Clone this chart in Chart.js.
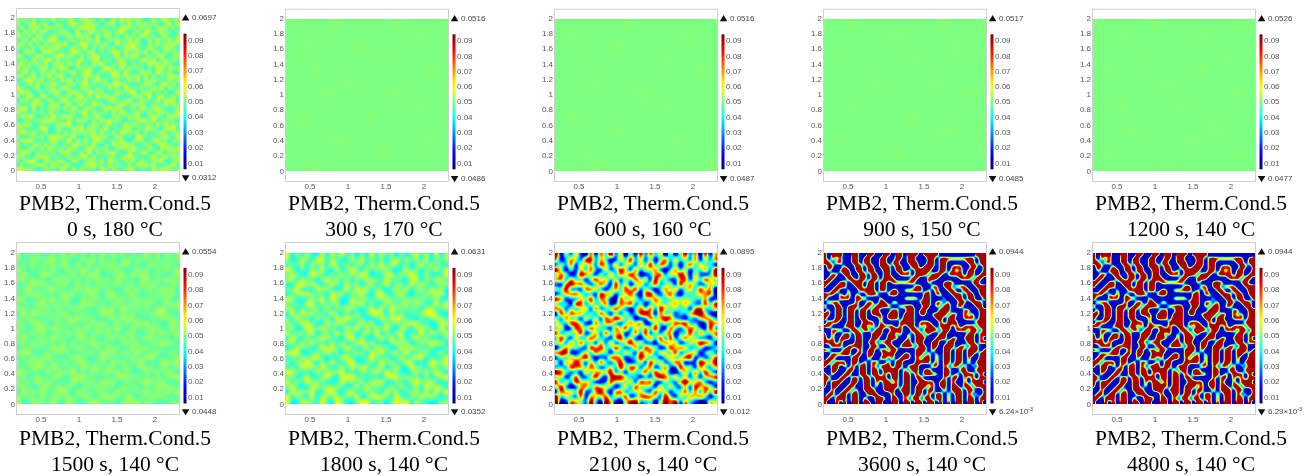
<!DOCTYPE html>
<html>
<head>
<meta charset="utf-8">
<title>PMB2 phase field panels</title>
<script src="https://cdn.jsdelivr.net/npm/chart.js@4"></script>
<style>
    html, body { margin: 0; padding: 0; background: #fff; }
    body { position: relative; width: 1315px; height: 476px; overflow: hidden; }
    canvas { position: absolute; filter: blur(0.3px); }
    .caption {
        position: absolute; width: 260px; text-align: center; color: #000;
        font: 21.5px/26px "Liberation Serif", serif; white-space: nowrap;
    }
</style>
</head>
<body>
<script>
const xTicks = [0.5, 1, 1.5, 2];
const yTicks = [0, 0.2, 0.4, 0.6, 0.8, 1, 1.2, 1.4, 1.6, 1.8, 2];
const barTicks = [0.01, 0.02, 0.03, 0.04, 0.05, 0.06, 0.07, 0.08, 0.09];
const captionTitle = 'PMB2, Therm.Cond.5';
const captionTimes = ['0 s, 180 °C', '300 s, 170 °C', '600 s, 160 °C', '900 s, 150 °C', '1200 s, 140 °C',
    '1500 s, 140 °C', '1800 s, 140 °C', '2100 s, 140 °C', '3600 s, 140 °C', '4800 s, 140 °C'];
const maxLabels = ['0.0697', '0.0516', '0.0516', '0.0517', '0.0526', '0.0554', '0.0631', '0.0895', '0.0944', '0.0944'];
const minLabels = ['0.0312', '0.0486', '0.0487', '0.0485', '0.0477', '0.0448', '0.0352', '0.012', '6.24', '6.29'];

// digit d in a grid means base + d * step
const gridBase = [0.042, 0.047, 0.047, 0.047, 0.047, 0.046, 0.039, 0.012, 0.012, 0.012];
const gridStep = [0.002, 0.001, 0.001, 0.001, 0.001, 0.0009, 0.0024, 0.0088, 0.0088, 0.0088];

const grid0 = [
"44627153390628417754061382957364018269437","81359246007318852694413760529183746205918",
"27045918663401729958136042785519360847262","60938275114862090377254618930462871593304",
"95261740383157296640819524073618925047116","13708462995024617382901657348290164735829",
"58290617346790158824637109256843071926485","72416093588216734905182460379951286037741",
"30865129741605982376041597282364915708263","94132760258937406158723049165870342691058",
"16509348827154069237816405932617849055372","49273618056628391407592163870425196738410",
"83640297155970146382039741826653040982767","25917064382436815790264587193018472953601",
"67048135926801523964710296384572906143885","12795480361749062815937046128390657421936",
"50382916474136708925146389750214863079252","96214703580893125740631825097346128590643",
"38760251469017952386470128536904782415109","71493086125346089271958463201775390682364",
"05826913740982473615302794168026541937780","62139570486057139248660315972848206319475",
"48907132665281940573129768403519627850136","93516280743014628907354182960473081765229",
"27684015392776501834921056347681249530968","10352749864329087516284937105268739146420",
"84961073225698134027615840392751460928373","56230498117403769285349016278134586207991",
"39748216005182645739082361974560712483156","71054362898625901347756128403097314268509",
"26893140575349082716961354820476218935064","90415728363071864529013285796412650387412",
"53267081942618730594428106375923184076859","18940635271795126380654792018346902751463",
"75302968414036258917132460879521068349276","42689107535812940376281953064719325680147",
"06135874296274013689540826317095748123590","89472016350961827435096273158604219378625"
];
const grid300 = [
"33334333343333","33343333333433","34333343333333","33333333433333","33433333333343",
"33333433333333","33343333343333","33333333333433","34333334333333","33333333333333",
"33334333333343","33333333433333","33433333333333"
];
const grid600 = [
"33333343333333","34333333333433","33333433333333","33433333343333","33333333333343",
"33343333333333","33333334333333","33333333343333","34333333333333","33333433333333",
"33333333334333","33433333333333","33343333433334"
];
const grid900 = [
"33433333334333","33333343333333","33333333333433","34333334333333","33333333333333",
"33334333343333","33333333333343","33433333333333","33333334333333","33333333334333",
"34333333333333","33333343333333","33333333333333"
];
const grid1200 = [
"33333433333343","33433333343333","33333333333333","33334333333433","34333333343333",
"33333343333333","33333333333343","33433334333333","33333333333333","33343333334333",
"33333333433333","34333333333343","33333343333333"
];
// same blobs grow from 1500 s to 2100 s, only the amplitude changes
const gridBlobs = [
"815262071739260518273605148270816","703751982640173926150482735180627",
"162807361952806417392861504927350","940516283071395082647103726053819",
"375029740618274950136827495162038","681734059372615384709351268073954",
"207968413850926037158246093741265","549120876204738591620473815629470",
"136785230967145820793158204355681","870316492751083462547534555443702",
"425098163480276915036445646521938","761524709136852047381954535078246",
"093867251940416238960725143689510","518240736085973501284697320415763",
"642975108367214758016352879240186","370186493520849163749208415763092",
"815639027194560382905176042918547","294071586330792610483909158361205",
"561829340718036947120583702649871","037452196843951280956019486235014",
"789013628450427509381762913570462","152746930218760348625047258904137",
"608395072941583126094713860129758","241967385036294871570382194607326",
"975130826759140635829451037282941","360482159307986240316974825160578",
"817295640128453709682053179648203","492016738564027193540827316095761",
"085749126930781546219360548271839","926318075482639027875194062758403",
"901764293096105892340586917320165"
];
const grid3600 = [
"#.###..##..##..##.##.###.####.........###","#.#.#..##.##..##..##.##...##.#########.##",
"##.##..##.##..##.##..###..##.##.....##.##",".##..#..##.##.###.##..##.###.##.###..##.#",
".#..###.##.##..##.##.#.####..##.#.#.##..#","..##.##..##.##.##..###.###.###.####.##.##",
".##...##.##.##.###....##..###.....###.##.","##..##.###.##.##.######...#...###....##..",
"#..###..##.##.##.......##..##.##.###..###","..##..#..####.##.##.#####.#.#..##..##..##",
"###.#.#.#..###..###......##.##..###.##.##","#...###.###...#.....####.##...#..##.##..#",
".###....#..##.##.##.....###.##.#..##.###.","#..##.###.##.####..####..##.#.##.##...##.",
".#.##.##.##.##...##..##.##...###...##..##","##.##.##.##.###.###.###.##.####.##.#.#.##",
"#..##.##.##...#.###.###.....##.##..###.##",".###..##..###.#....####.###..#.###....###",
"##...###.##.#.####.#.##.#.##.###.#.###.##",
"..###..##.##.##..###..##.####.##.###.##.#","#.#..##.##..###.##.#.#.##.#..##.....##.##",
"#.#.###.##..##..###..#.###..###.##.###.#.","###.#...##.##.###...##.##..##..##...##.##",
"..###.####..##..##.####.##.##.###.##.##..","##...##..#.##.##.##....###.#..##.##.###.#",
"..#####.##.##..###..##.##.#.#.##.##.##.##",".##....##..#..##.#.###.#.##.#.##.##.#..##",
"##.###.##.#.##..#.##...####.#.##.##.#.###","#.##.#.#.##.#.###.##.###...##.#.##.#.#.##",
"..##..##.##.##.####.#.##.##...##..##..###","#.#..##..##.##.#.##.##.#.####.##.#.###.#.",
"##..##.##.##.###.##.##.##.....#.##.#.#.##","#.###..##.##.#.##.#.##..####.##.#..#.###.",
"#.##..##..##.#.####.##.###.#.##.##.##.###","..#..##.#.###..###.###.##.##..#.###.##..#",
".##.##.##..###...#..##.##.#.##.#.##.#.#.#","##.###.##.#..###.##.#.##.##.##.#.##.##.##",
"#..#.#.##.##.##..##.##.##.##.#.#.##.##.#."
];
const grid4800 = [
"#.###..##..##..##.##.###.####............","#.#.#..##.##..##..##.##...##.#########.##",
"##.##..##.##..##.##..###..##.##.....##.##",".##..#..##.##.###.##..##.###.##.###..##.#",
".#..###.##.##..##.##.#.####..##.#.#.##..#","..##.##..##.##.##..###.###.###.####.##.##",
".##...##.##.##.###....##..###.....###.##.","##..##.###.##.##.######...#...###....##..",
"#..###..##.##.##.......##..##.##.###..###","..##..#..####.##.##.#####.#.#..##..##..##",
"###.#.#.#..###..###......##.##..###.##.##","#...###.###...#.....####.##...#..##.##..#",
".###....#..##.##.##.....###.##.#..##.###.","#..##.###.##.####..####..##.#.##.##...##.",
".#.##.##.##.##...##..##.##...###...##..##","##.##.##.##.###.###.###.##.####.##.#.#.##",
"#..##.##.##...#.###.###.....##.##..###.##",".###..##..###.#....####.###..#.###....###",
"##...###.##.#.####.#.##.#.##.###.#.###.##",
"..###..##.##.##..###..##.####.##.###.##.#","#.#..##.##..###.##.#.#.##.#..##.....##.##",
"#.#.###.##..##..###..#.###..###.##.###.#.","###.#...##.##.###...##.##..##..##...##.##",
"..###.####..##..##.####.##.##.###.##.##..","##...##..#.##.##.##....###.#..##.##.###.#",
"..#####.##.##..###..##.##.#.#.##.##.##.##",".##....##..#..##.#.###.#.##.#.##.##.#..##",
"##.###.##.#.##..#.##...####.#.##.##.#.###","#.##.#.#.##.#.###.##.###...##.#.##.#.#.##",
"..##..##.##.##.####.#.##.##...##..##..###","#.#..##..##.##.#.##.##.#.####.##.#.###.#.",
"##..##.##.##.###.##.##.##.....#.##.#.#.##","#.###..##.##.#.##.#.##..####.##.#..#.###.",
"#.##..##..##.#.####.##.###.#.##.##.##.###","..#..##.#.###..###.###.##.##..#.###.##..#",
".##.##.##..###...#..##.##.#.##.#.##.#.#.#","##.###.##.#..###.##.#.##.##.##.#.##.##.##",
"#..#.#.##.##.##..##.##.##.##.#.#.##.##.#."
];
const panelGrids = [grid0, grid300, grid600, grid900, grid1200, gridBlobs, gridBlobs, gridBlobs, grid3600, grid4800];
const panelSmooth = [1, 3, 3, 3, 3, 2.2, 2.2, 2.2, 2, 2];
const panelGain = [0.75, 0.7, 0.7, 0.7, 0.7, 1.3, 1.2, 1.6, 3.4, 3.4];
const panelPivot = [0.05, 0.05, 0.05, 0.05, 0.05, 0.05, 0.05, 0.05, 0.058, 0.058];

const frameLefts = [16, 285, 554, 823, 1092];
const rowTops = [0, 234];
const plotHeights = [174, 173];
const yRanges = [[-0.14, 2.13], [-0.141, 2.145]];
const barRanges = [[-0.0021, 0.1111], [-0.0013, 0.1112]];
const captionTops = [190, 425];
const xRange = [0.171, 2.329];
const barLow = 0.0062, barHigh = 0.0944;

// COMSOL rainbow table, same as jet
function rainbowRgb(v) {
    const t = Math.min(1, Math.max(0, (v - barLow) / (barHigh - barLow)));
    const ch = c => Math.round(255 * Math.min(1, Math.max(0, 1.5 - Math.abs(4 * t - c))));
    return [ch(3), ch(2), ch(1)];
}
const rainbow = v => `rgb(${rainbowRgb(v).join(',')})`;

// cells are painted as grey levels first, the colour table goes on after smoothing
function greyFor(v) {
    const g = Math.round(255 * (v - barLow) / (barHigh - barLow));
    return `rgb(${g},${g},${g})`;
}

function cellPoints(grid, base, step) {
    const cols = grid[0].length, rows = grid.length;
    const pts = [];
    grid.forEach((line, r) => {
        const row = line.padEnd(cols, line[line.length - 1]).slice(0, cols);
        for (let c = 0; c < cols; c++) {
            const ch = row[c];
            const d = ch === '#' ? 9 : ch === '.' ? 0 : Number(ch);
            pts.push({
                x: xRange[0] + (c + 0.5) * (xRange[1] - xRange[0]) / cols,
                y: 2 - (r + 0.5) * 2 / rows,
                v: base + d * step
            });
        }
    });
    return pts;
}

// rect point style has corners at the radius, so side = radius * sqrt2
const sideToRadius = side => side / Math.SQRT2;

captionTimes.forEach((time, i) => {
    const col = i % 5, row = i < 5 ? 0 : 1;
    const grid = panelGrids[i];
    const sideX = 164 / grid[0].length;
    const sideY = plotHeights[row] * 2 / (yRanges[row][1] - yRanges[row][0]) / grid.length;
    const side = Math.max(sideX, sideY);
    const pts = cellPoints(grid, gridBase[i], gridStep[i]);
    const fieldLow = gridBase[i], fieldHigh = gridBase[i] + 9 * gridStep[i];
    const striped = i >= 8;

    const datasets = [{
        data: pts,
        pointStyle: 'rect',
        pointRadius: sideToRadius(side + 0.6),
        pointBorderWidth: 0,
        pointBackgroundColor: pts.map(p => greyFor(p.v))
    }];

    const decor = {
        id: 'decor',
        afterDatasetsDraw(chart) {
            const { ctx, chartArea: a, scales } = chart;
            const top = Math.round(scales.y.getPixelForValue(2)), bottom = Math.round(scales.y.getPixelForValue(0));
            const w = Math.round(a.right - a.left), h = bottom - top;
            ctx.save();
            ctx.beginPath();
            ctx.rect(a.left, top, w, h);
            ctx.clip();
            ctx.filter = `blur(${panelSmooth[i]}px)`;
            // only the plot region goes through the blur, not the tick labels beside it
            ctx.drawImage(chart.canvas, a.left, top, w, h, a.left, top, w, h);
            ctx.restore();

            const img = ctx.getImageData(a.left, top, w, h);
            const px = img.data;
            const pivot = panelPivot[i];
            for (let k = 0; k < px.length; k += 4) {
                let v = barLow + (px[k] / 255) * (barHigh - barLow);
                v = 0.05 + (v - pivot) * panelGain[i];
                if (striped) v = Math.min(fieldHigh, Math.max(fieldLow, v));
                const c = rainbowRgb(v);
                px[k] = c[0]; px[k + 1] = c[1]; px[k + 2] = c[2]; px[k + 3] = 255;
            }
            ctx.putImageData(img, a.left, top);
            ctx.clearRect(a.left, a.top, w, top - a.top);
            ctx.clearRect(a.left, bottom, w, a.bottom - bottom);
        },
        afterDraw(chart) {
            const { ctx, chartArea: a, scales } = chart;
            ctx.save();
            ctx.strokeStyle = '#cfcfcf';
            ctx.lineWidth = 1;
            ctx.strokeRect(a.left + 0.5, a.top + 0.5, a.right - a.left - 1, a.bottom - a.top - 1);

            // colour bar
            const barY = v => scales.bar.getPixelForValue(v);
            const g = ctx.createLinearGradient(0, barY(barHigh), 0, barY(barLow));
            for (let k = 0; k <= 20; k++) g.addColorStop(k / 20, rainbow(barHigh - (barHigh - barLow) * k / 20));
            ctx.fillStyle = g;
            ctx.fillRect(a.right + 3.5, barY(barHigh), 3, barY(barLow) - barY(barHigh));

            // max and min markers
            const tx = a.right + 5.6, upY = a.top + 9.6, downY = a.top + 170;
            ctx.fillStyle = '#111';
            ctx.beginPath();
            ctx.moveTo(tx - 3.8, upY + 2.8); ctx.lineTo(tx + 3.8, upY + 2.8); ctx.lineTo(tx, upY - 3.4);
            ctx.closePath(); ctx.fill();
            ctx.beginPath();
            ctx.moveTo(tx - 3.8, downY - 2.8); ctx.lineTo(tx + 3.8, downY - 2.8); ctx.lineTo(tx, downY + 3.4);
            ctx.closePath(); ctx.fill();

            ctx.fillStyle = '#444';
            ctx.textBaseline = 'middle';
            ctx.textAlign = 'left';
            ctx.font = '8px "Liberation Sans", sans-serif';
            ctx.fillText(maxLabels[i], a.right + 12, upY);
            if (striped) {
                const txt = minLabels[i] + '×10';
                ctx.fillText(txt, a.right + 12, downY);
                const tw = ctx.measureText(txt).width;
                ctx.font = '5.5px "Liberation Sans", sans-serif';
                ctx.fillText('-3', a.right + 12 + tw, downY - 2.5);
            } else {
                ctx.fillText(minLabels[i], a.right + 12, downY);
            }
            ctx.restore();
        }
    };

    const canvas = document.createElement('canvas');
    canvas.width = 239;
    canvas.height = 200;
    canvas.style.left = (frameLefts[col] - 16) + 'px';
    canvas.style.top = rowTops[row] + 'px';
    document.body.appendChild(canvas);

    const tickFont = { family: '"Liberation Sans", sans-serif', size: 8 };
    const noPad = s => { s.paddingTop = 0; s.paddingBottom = 0; s.paddingLeft = 0; s.paddingRight = 0; };
    new Chart(canvas, {
        type: 'scatter',
        data: { datasets },
        plugins: [decor],
        options: {
            responsive: false,
            animation: false,
            events: [],
            layout: { padding: { top: 8 } },
            plugins: { legend: { display: false }, tooltip: { enabled: false } },
            scales: {
                x: {
                    type: 'linear', min: xRange[0], max: xRange[1],
                    grid: { display: false, drawTicks: false }, border: { display: false },
                    afterBuildTicks: s => { s.ticks = xTicks.map(value => ({ value })); },
                    afterFit: s => { s.height = 200 - 8 - plotHeights[row]; noPad(s); },
                    ticks: { color: '#555', font: tickFont, padding: 0, maxRotation: 0, autoSkip: false, callback: v => String(v) }
                },
                y: {
                    type: 'linear', position: 'left', min: yRanges[row][0], max: yRanges[row][1],
                    grid: { display: false, drawTicks: false }, border: { display: false },
                    afterBuildTicks: s => { s.ticks = yTicks.map(value => ({ value })); },
                    afterFit: s => { s.width = 16; noPad(s); },
                    ticks: { color: '#555', font: tickFont, padding: 1, autoSkip: false, callback: v => String(v) }
                },
                bar: {
                    type: 'linear', position: 'right', min: barRanges[row][0], max: barRanges[row][1],
                    grid: { display: false, drawTicks: false }, border: { display: false },
                    afterBuildTicks: s => { s.ticks = barTicks.map(value => ({ value })); },
                    afterFit: s => { s.width = 59; noPad(s); },
                    ticks: { color: '#555', font: tickFont, padding: 8, autoSkip: false, callback: v => v.toFixed(2) }
                }
            }
        }
    });

    const cap = document.createElement('div');
    cap.className = 'caption';
    cap.style.left = (frameLefts[col] + 99 - 130) + 'px';
    cap.style.top = captionTops[row] + 'px';
    cap.innerHTML = captionTitle + '<br>' + time;
    document.body.appendChild(cap);
});
</script>
</body>
</html>
